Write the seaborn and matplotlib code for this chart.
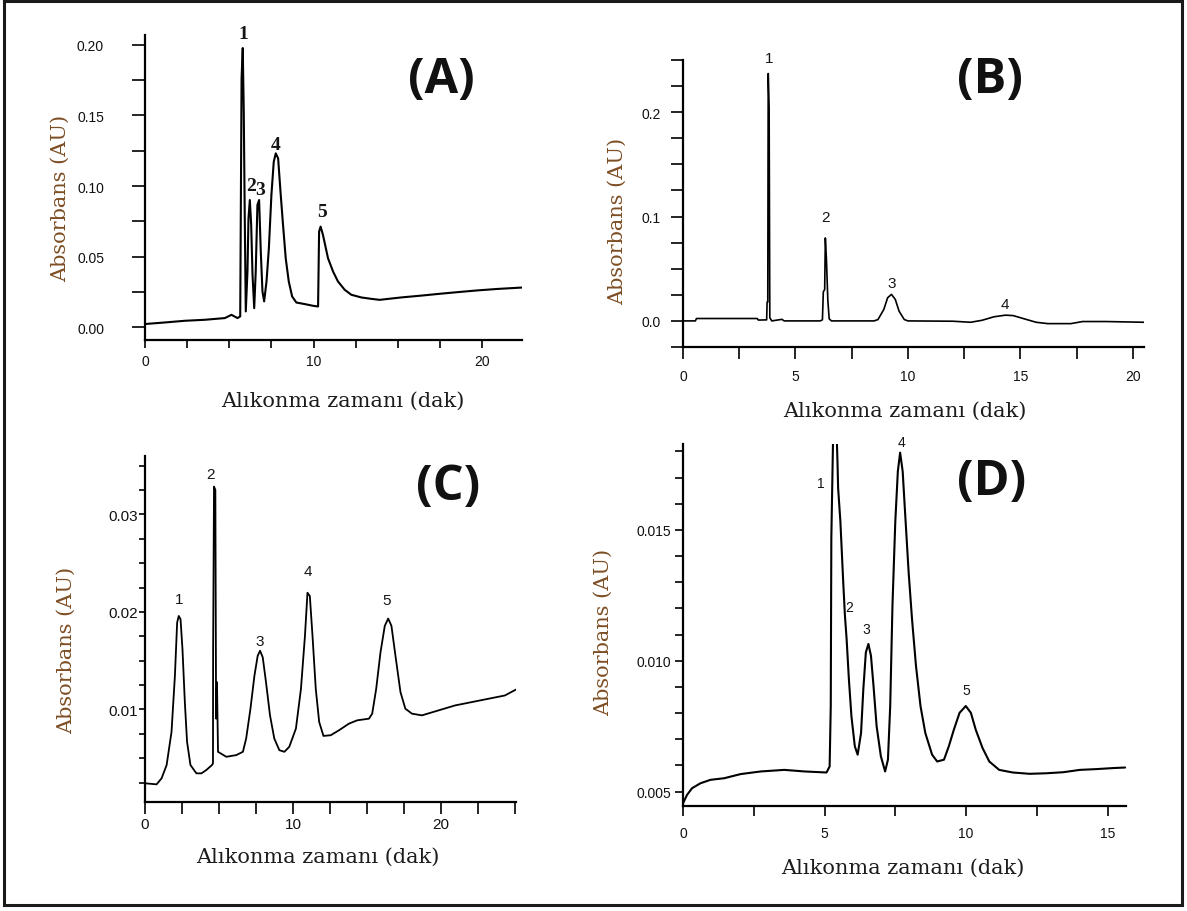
import numpy as np
import pandas as pd
import matplotlib
matplotlib.use("Agg")
import matplotlib.pyplot as plt
import seaborn as sns
from matplotlib.ticker import MultipleLocator, FormatStrFormatter
from matplotlib.patches import Rectangle
from matplotlib import font_manager

sns.set_theme(style="white")
plt.rcParams["font.family"] = ["DejaVu Sans"]

_names = {f.name for f in font_manager.fontManager.ttflist}
TICK_FONT = "Liberation Sans Narrow" if "Liberation Sans Narrow" in _names else "Liberation Sans"
SERIF = "DejaVu Serif"
LETTER_FONT = "Open Sans"

# ---------------------------------------------------------------- data
# (A) retention time (min) / absorbance (AU)
a_time = [0.0, 1.18, 2.37, 3.55, 4.74, 5.13, 5.49, 5.65, 5.73, 5.80, 5.86, 5.92,
          5.98, 6.08, 6.14, 6.22, 6.30, 6.38, 6.48, 6.57, 6.67, 6.77, 6.87, 6.97,
          7.07, 7.21, 7.35, 7.50, 7.64, 7.76, 7.90, 8.04, 8.19, 8.35, 8.53, 8.73,
          8.98, 9.48, 9.97, 10.27, 10.33, 10.42, 10.56, 10.86, 11.16, 11.45, 11.85,
          12.24, 12.83, 13.43, 13.92, 15.20, 16.40, 17.50, 18.60, 19.75, 20.90, 22.37]
a_abs = [0.0024, 0.0035, 0.0047, 0.0054, 0.0066, 0.0089, 0.0066, 0.0078, 0.1760,
         0.1976, 0.1525, 0.0772, 0.0113, 0.0395, 0.0772, 0.0901, 0.0725, 0.0372,
         0.0136, 0.0395, 0.0866, 0.0901, 0.0536, 0.0254, 0.0184, 0.0325, 0.0560,
         0.0936, 0.1172, 0.1231, 0.1195, 0.0960, 0.0725, 0.0489, 0.0325, 0.0219,
         0.0176, 0.0165, 0.0153, 0.0148, 0.0678, 0.0713, 0.0654, 0.0489, 0.0395,
         0.0325, 0.0266, 0.0231, 0.0212, 0.0202, 0.0195, 0.0212, 0.0225, 0.0238,
         0.0250, 0.0262, 0.0272, 0.0282]
a_peak_time = [5.80, 6.22, 6.77, 7.76, 10.42]
a_peak_abs = [0.1976, 0.0901, 0.0901, 0.1231, 0.0713]
a_peak_names = ["1", "2", "3", "4", "5"]

# (B)
b_time = [0.0, 0.55, 0.60, 3.30, 3.35, 3.72, 3.74, 3.77, 3.79, 3.83, 3.86, 3.95,
          4.40, 4.50, 6.10, 6.20, 6.24, 6.30, 6.33, 6.38, 6.44, 6.50, 6.60, 8.50,
          8.67, 8.93, 9.10, 9.27, 9.44, 9.61, 9.84, 10.00, 12.00, 12.79, 13.30,
          13.82, 14.33, 14.68, 15.19, 15.70, 16.22, 17.25, 17.77, 18.80, 20.50]
b_abs = [0.0, 0.0, 0.0023, 0.0023, 0.0008, 0.0010, 0.0180, 0.0180, 0.2370, 0.2040,
         0.0030, 0.0, 0.0015, 0.0, 0.0, 0.0010, 0.0280, 0.0300, 0.0795, 0.0580,
         0.0200, 0.0020, 0.0, 0.0, 0.0013, 0.0110, 0.0222, 0.0254, 0.0206, 0.0093,
         0.0013, 0.0, -0.0003, -0.0013, 0.0006, 0.0039, 0.0055, 0.0051, 0.0019,
         -0.0013, -0.0026, -0.0026, -0.0006, -0.0006, -0.0013]
b_peak_time = [3.79, 6.33, 9.27, 14.33]
b_peak_abs = [0.2370, 0.0795, 0.0254, 0.0055]
b_peak_names = ["1", "2", "3", "4"]

# (C)
c_time = [0.0, 0.78, 1.12, 1.46, 1.79, 2.02, 2.17, 2.28, 2.40, 2.53, 2.69, 2.84,
          3.07, 3.47, 3.81, 4.14, 4.52, 4.59, 4.60, 4.66, 4.75, 4.80, 4.86, 4.93,
          5.49, 6.16, 6.61, 6.83, 7.12, 7.39, 7.61, 7.77, 7.95, 8.17, 8.44, 8.73,
          9.07, 9.41, 9.74, 10.19, 10.53, 10.80, 10.97, 11.13, 11.31, 11.53, 11.76,
          12.05, 12.54, 13.10, 13.77, 14.33, 15.12, 15.34, 15.61, 15.90, 16.19,
          16.42, 16.64, 16.91, 17.25, 17.58, 18.03, 18.70, 19.82, 20.94, 22.06,
          23.18, 24.30, 25.05]
c_abs = [0.00242, 0.00231, 0.00293, 0.00429, 0.00769, 0.01347, 0.01891, 0.01959,
         0.01925, 0.01619, 0.01075, 0.00667, 0.00429, 0.00344, 0.00344, 0.00378,
         0.00429, 0.00446, 0.01619, 0.03286, 0.03252, 0.00905, 0.01279, 0.00565,
         0.00514, 0.00531, 0.00565, 0.00701, 0.01007, 0.01347, 0.01551, 0.01602,
         0.01534, 0.01279, 0.00939, 0.00701, 0.00582, 0.00565, 0.00616, 0.00803,
         0.01211, 0.01755, 0.02197, 0.02163, 0.01755, 0.01211, 0.00871, 0.00728,
         0.00735, 0.00786, 0.00854, 0.00888, 0.00905, 0.00956, 0.01211, 0.01585,
         0.01857, 0.01932, 0.01857, 0.01551, 0.01177, 0.01007, 0.00956, 0.00939,
         0.00990, 0.01041, 0.01075, 0.01109, 0.01143, 0.01204]
c_peak_time = [2.28, 4.66, 7.77, 10.97, 16.42]
c_peak_abs = [0.01959, 0.03286, 0.01602, 0.02197, 0.01932]
c_peak_names = ["1", "2", "3", "4", "5"]

# (D)
d_time = [0.0, 0.14, 0.32, 0.62, 0.97, 1.45, 2.04, 2.75, 3.58, 4.29, 5.07, 5.18,
          5.22, 5.24, 5.35, 5.46, 5.48, 5.56, 5.66, 5.72, 5.78, 5.86, 5.95, 6.07,
          6.17, 6.29, 6.37, 6.46, 6.55, 6.64, 6.73, 6.84, 6.99, 7.14, 7.24, 7.32,
          7.40, 7.50, 7.59, 7.67, 7.76, 7.85, 7.97, 8.09, 8.23, 8.39, 8.56, 8.80,
          8.98, 9.22, 9.39, 9.57, 9.77, 9.99, 10.17, 10.34, 10.58, 10.82, 11.17,
          11.65, 12.24, 12.83, 13.43, 14.02, 14.61, 15.21, 15.62]
d_abs = [0.00455, 0.00487, 0.00513, 0.00532, 0.00545, 0.00551, 0.00567, 0.00577,
         0.00583, 0.00577, 0.00573, 0.00596, 0.00827, 0.01468, 0.02150, 0.01750,
         0.01660, 0.01532, 0.01301, 0.01173, 0.01083, 0.00930, 0.00788, 0.00673,
         0.00641, 0.00724, 0.00891, 0.01032, 0.01064, 0.01019, 0.00904, 0.00750,
         0.00635, 0.00577, 0.00622, 0.00827, 0.01212, 0.01532, 0.01724, 0.01795,
         0.01724, 0.01558, 0.01340, 0.01160, 0.00981, 0.00827, 0.00724, 0.00641,
         0.00615, 0.00622, 0.00673, 0.00737, 0.00801, 0.00827, 0.00801, 0.00737,
         0.00667, 0.00615, 0.00583, 0.00573, 0.00568, 0.00570, 0.00574, 0.00583,
         0.00586, 0.00590, 0.00592]
d_peak_time = [5.35, 5.72, 6.55, 7.67, 9.99]
d_peak_abs = [0.02150, 0.01173, 0.01064, 0.01795, 0.00827]
d_peak_names = ["1", "2", "3", "4", "5"]

X_LABEL = "Alıkonma zamanı (dak)"
Y_LABEL = "Absorbans (AU)"

# ---------------------------------------------------------------- layout
W, H = 1187, 912
fig = plt.figure(figsize=(W / 100, H / 100), dpi=100)
fig.patch.set_facecolor("white")

PX2PT = 0.72

panels = [
    dict(name="(A)", time=a_time, absb=a_abs, pk_t=a_peak_time, pk_a=a_peak_abs,
         pk_n=a_peak_names,
         box=(145, 36, 522, 341), xlim=(0, 22.37), ylim=(-0.0089, 0.2068),
         xmaj=10, xmin=2.5, ymaj=0.05, ymin=0.025, yfmt="%.2f",
         xtl=8, ytl=13, xpad=6, ypad=28, tick_size=10,
         pk_off=[(1, 15), (1, 15), (1, 11), (0, 9), (1, 15)],
         pk_font=dict(family="Liberation Serif", weight="bold", size=14),
         letter=(441, 80), xlab=(343, 401), ylab=(60, 198), lw=1.5),
    dict(name="(B)", time=b_time, absb=b_abs, pk_t=b_peak_time, pk_a=b_peak_abs,
         pk_n=b_peak_names,
         box=(683, 61, 1144, 348), xlim=(0, 20.5), ylim=(-0.025, 0.25),
         xmaj=5, xmin=2.5, ymaj=0.1, ymin=0.025, yfmt="%.1f",
         xtl=12, ytl=12, xpad=10, ypad=10, tick_size=10,
         pk_off=[(1, 16), (0, 21), (0, 11), (0, 11)],
         pk_font=dict(family="Liberation Sans", size=11),
         letter=(990, 80), xlab=(905, 411), ylab=(617, 221), lw=1.2),
    dict(name="(C)", time=c_time, absb=c_abs, pk_t=c_peak_time, pk_a=c_peak_abs,
         pk_n=c_peak_names,
         box=(145, 457, 516, 803), xlim=(0, 25.05), ylim=(0.0005, 0.036),
         xmaj=10, xmin=2.5, ymaj=0.01, ymin=0.0025, yfmt="%.2f",
         xtl=12, ytl=6, xpad=3, ypad=1, tick_size=11,
         pk_off=[(0, 17), (-4, 13), (0, 10), (0, 22), (-2, 19)],
         pk_font=dict(family="Liberation Sans", size=11),
         letter=(448, 488), xlab=(318, 857), ylab=(66, 650), lw=1.3),
    dict(name="(D)", time=d_time, absb=d_abs, pk_t=d_peak_time, pk_a=d_peak_abs,
         pk_n=d_peak_names,
         box=(683, 445, 1126, 807), xlim=(0, 15.65), ylim=(0.00445, 0.01828),
         xmaj=5, xmin=2.5, ymaj=0.005, ymin=0.001, yfmt="%.3f",
         xtl=10, ytl=8, xpad=10, ypad=4, tick_size=10,
         pk_off=[(-14, -123), (4, 8), (-2, 15), (1, 11), (1, 16)],
         pk_font=dict(family="Liberation Sans", size=10),
         letter=(992, 483), xlab=(903, 868), ylab=(603, 632), lw=1.5),
]

for p in panels:
    l, t, r, b = p["box"]
    ax = fig.add_axes([l / W, 1 - b / H, (r - l) / W, (b - t) / H])
    df = pd.DataFrame({"time": p["time"], "abs": p["absb"]})
    sns.lineplot(data=df, x="time", y="abs", ax=ax, color="black",
                 linewidth=p["lw"], estimator=None, sort=False)
    ax.set_xlim(*p["xlim"])
    ax.set_ylim(*p["ylim"])
    ax.set_facecolor("white")
    for side in ("top", "right"):
        ax.spines[side].set_visible(False)
    for side in ("left", "bottom"):
        ax.spines[side].set_color("black")
        ax.spines[side].set_linewidth(1.6)

    ax.xaxis.set_major_locator(MultipleLocator(p["xmaj"]))
    ax.xaxis.set_minor_locator(MultipleLocator(p["xmin"]))
    ax.yaxis.set_major_locator(MultipleLocator(p["ymaj"]))
    ax.yaxis.set_minor_locator(MultipleLocator(p["ymin"]))
    ax.yaxis.set_major_formatter(FormatStrFormatter(p["yfmt"]))
    ax.xaxis.set_major_formatter(FormatStrFormatter("%d"))
    ax.tick_params(axis="x", which="both", direction="out", bottom=True,
                   length=p["xtl"] * PX2PT, width=1.2, color="black",
                   pad=p["xpad"] * PX2PT)
    ax.tick_params(axis="y", which="both", direction="out", left=True,
                   length=p["ytl"] * PX2PT, width=1.2, color="black",
                   pad=p["ypad"] * PX2PT)
    for lab in ax.get_xticklabels() + ax.get_yticklabels():
        lab.set_fontfamily(TICK_FONT)
        lab.set_fontsize(p["tick_size"])
        lab.set_color("#111111")
    ax.grid(False)

    # axis titles placed by pixel centre
    ax.set_xlabel(X_LABEL, family=SERIF, fontsize=15, color="#1c1c1c")
    ax.set_ylabel(Y_LABEL, family=SERIF, fontsize=15, color="#7d4e24")
    cx, cy = p["xlab"]
    ax.xaxis.set_label_coords((cx - l) / (r - l), (b - cy) / (b - t))
    ax.xaxis.label.set_va("center")
    cx, cy = p["ylab"]
    ax.yaxis.set_label_coords((cx - l) / (r - l), (b - cy) / (b - t))
    ax.yaxis.label.set_va("center")

    # peak numbers
    for name, pt, pa, (dx, dy) in zip(p["pk_n"], p["pk_t"], p["pk_a"], p["pk_off"]):
        ax.annotate(name, xy=(pt, pa), xytext=(dx * PX2PT, dy * PX2PT),
                    textcoords="offset points", ha="center", va="center",
                    color="#151515", annotation_clip=False, **p["pk_font"])

    # panel letter
    lx, ly = p["letter"]
    fig.text(lx / W, 1 - ly / H, p["name"], ha="center", va="center",
             family=LETTER_FONT, weight="bold", fontsize=35, color="#111111")

# outer frame
fig.patches.append(Rectangle((4 / W, 1 - 906 / H), (1182 - 4) / W, (906 - 2) / H,
                             transform=fig.transFigure, fill=False,
                             edgecolor="#1a1a1a", linewidth=2.2))

fig.savefig("out.png", dpi=100, facecolor="white")
